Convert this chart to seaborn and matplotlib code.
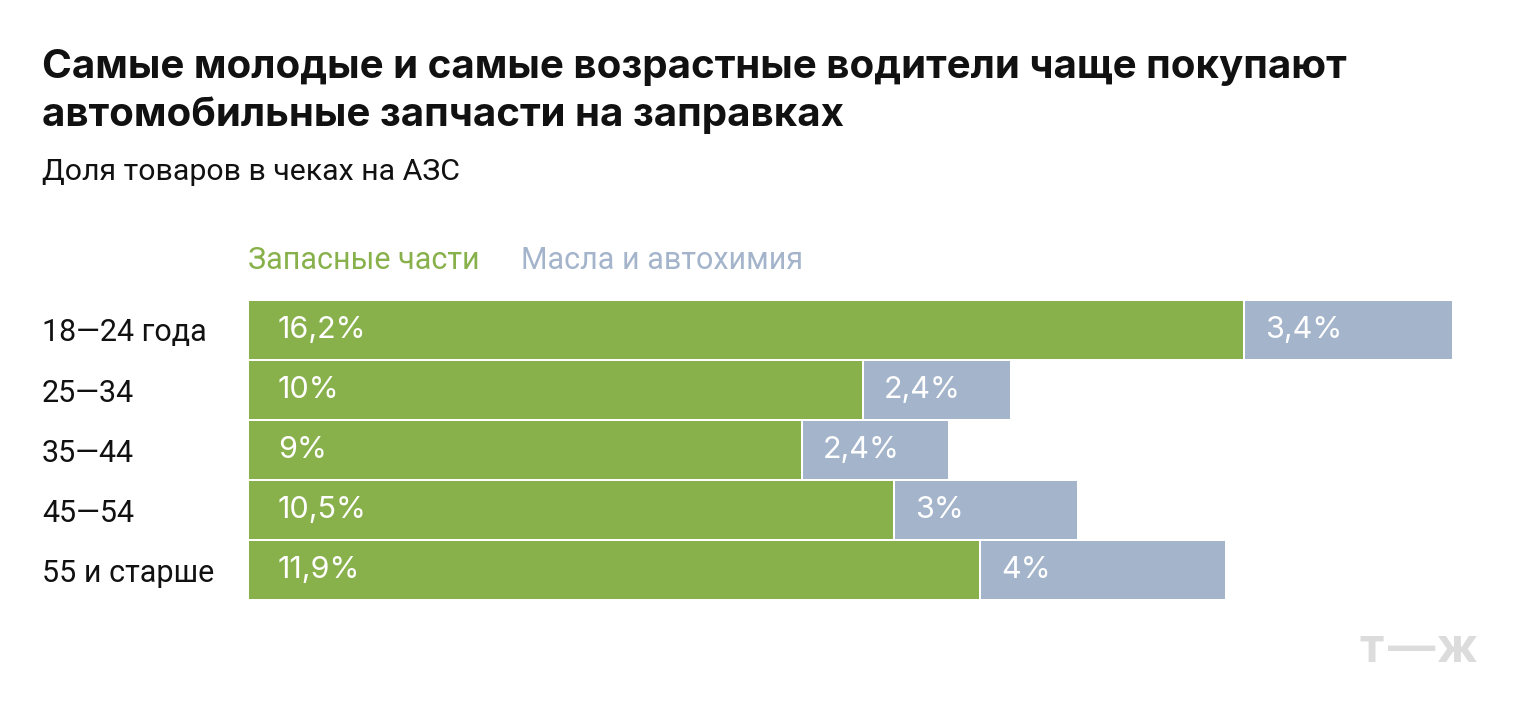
import seaborn as sns
import pandas as pd
import matplotlib.pyplot as plt
import numpy as np


sns.set_theme(style='white')
plt.rcParams['font.family'] = ['Roboto', 'DejaVu Sans']

ages = ['18—24 года', '25—34', '35—44', '45—54', '55 и старше']
parts = np.array([16.2, 10, 9, 10.5, 11.9])
oils = np.array([3.4, 2.4, 2.4, 3, 4])
parts_lbl = ['16,2%', '10%', '9%', '10,5%', '11,9%']
oils_lbl = ['3,4%', '2,4%', '2,4%', '3%', '4%']

green = '#88b14b'
gray = '#a3b4cb'
ink = '#111111'

df = pd.DataFrame({'age': ages, 'parts': parts, 'total': parts + oils})

fig = plt.figure(figsize=(15.2, 7.2), dpi=100)
ax = fig.add_axes([248 / 1520, 1 - 600 / 720, 1230 / 1520, 300 / 720])

# stacked: total in gray first, then the green part over it
sns.barplot(data=df, y='age', x='total', color=gray, width=1.0, edgecolor='white',
            linewidth=1.44, saturation=1, ax=ax)
sns.barplot(data=df, y='age', x='parts', color=green, width=1.0, edgecolor='white',
            linewidth=1.44, saturation=1, ax=ax)

ax.set_xlim(0, 20)
ax.set_ylim(4.5, -0.5)
sns.despine(ax=ax, left=True, bottom=True)
ax.set_xticks([])
ax.set_xlabel('')
ax.set_ylabel('')
ax.tick_params(axis='y', length=0, pad=148.3, labelsize=22)
for t in ax.get_yticklabels():
    t.set_ha('left')
    t.set_color(ink)

for i in range(len(ages)):
    ax.annotate(parts_lbl[i], (0, i), xytext=(30, 0), textcoords='offset pixels',
                ha='left', va='center', color='white', size=22, family=['Inter', 'Roboto'])
    ax.annotate(oils_lbl[i], (parts[i], i), xytext=(21, 0), textcoords='offset pixels',
                ha='left', va='center', color='white', size=22, family=['Inter', 'Roboto'])

fig.text(42 / 1520, 1 - 68 / 720, 'Самые молодые и самые возрастные водители чаще покупают',
         size=29, weight='bold', va='center', color=ink, family=['Inter', 'Roboto'])
fig.text(42 / 1520, 1 - 115 / 720, 'автомобильные запчасти на заправках',
         size=29, weight='bold', va='center', color=ink, family=['Inter', 'Roboto'])
fig.text(42 / 1520, 1 - 172 / 720, 'Доля товаров в чеках на АЗС',
         size=21.8, va='center', color=ink)

fig.text(248 / 1520, 1 - 260 / 720, 'Запасные части', size=22, va='center', color=green)
fig.text(521 / 1520, 1 - 260 / 720, 'Масла и автохимия', size=22, va='center', color=gray)

# logo
logo = '#dcdcdc'
fig.text(1360 / 1520, 1 - 650 / 720, 'т', size=34, weight='bold', ha='left', va='center',
         color=logo, family=['Inter', 'Roboto'])
fig.text(1412 / 1520, 1 - 650 / 720, '—', size=34, weight='bold', ha='center', va='center',
         color=logo, family=['Inter', 'Roboto'])
fig.text(1478 / 1520, 1 - 650 / 720, 'ж', size=34, weight='bold', ha='right', va='center',
         color=logo, family=['Inter', 'Roboto'])

fig.savefig('out.png', dpi=100, facecolor='white')
